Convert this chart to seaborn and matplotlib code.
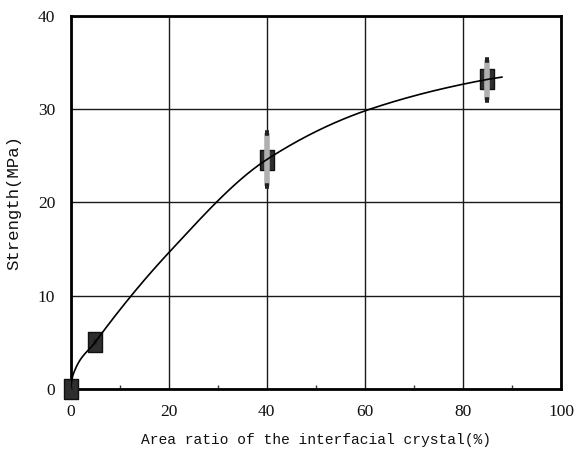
import numpy as np
import pandas as pd
import matplotlib
matplotlib.use("Agg")
import matplotlib.pyplot as plt
from matplotlib.ticker import MultipleLocator
import seaborn as sns

# Measured strength against area ratio of the interfacial crystal
area_ratio = [0, 5, 40, 85]
strength = [0.0, 5.0, 24.6, 33.2]
err_low = [0.0, 0.0, 2.8, 2.2]
err_high = [0.0, 0.0, 2.8, 2.1]

# Trend curve through the measurements
trend_x = [0, 0.5, 5, 20, 40, 61, 85, 88]
trend_y = [0, 1.5, 5.0, 14.6, 24.6, 30.0, 33.2, 33.45]

x_ticks = [0, 20, 40, 60, 80, 100]
y_ticks = [0, 10, 20, 30, 40]


def pchip(xk, yk, xs):
    xk = np.asarray(xk, float)
    yk = np.asarray(yk, float)
    h = np.diff(xk)
    d = np.diff(yk) / h
    m = np.zeros_like(xk)
    for i in range(1, len(xk) - 1):
        if d[i - 1] * d[i] > 0:
            w1 = 2 * h[i] + h[i - 1]
            w2 = h[i] + 2 * h[i - 1]
            m[i] = (w1 + w2) / (w1 / d[i - 1] + w2 / d[i])
    m[0] = d[0]
    m[-1] = d[-1]
    idx = np.clip(np.searchsorted(xk, xs) - 1, 0, len(xk) - 2)
    t = (xs - xk[idx]) / h[idx]
    h00 = 2 * t**3 - 3 * t**2 + 1
    h10 = t**3 - 2 * t**2 + t
    h01 = -2 * t**3 + 3 * t**2
    h11 = t**3 - t**2
    return (h00 * yk[idx] + h10 * h[idx] * m[idx]
            + h01 * yk[idx + 1] + h11 * h[idx] * m[idx + 1])


xs = np.linspace(trend_x[0], trend_x[-1], 500)
curve = pd.DataFrame({"x": xs, "y": pchip(trend_x, trend_y, xs)})
points = pd.DataFrame({"x": area_ratio, "y": strength})

sns.set_theme(style="white")
plt.rcParams["font.family"] = ["Liberation Serif", "DejaVu Serif"]

fig = plt.figure(figsize=(5.76, 4.57), dpi=100)
ax = fig.add_axes([0.1224, 0.1488, 0.8516, 0.8162])

# rectangular dark markers
rect = [(-0.37, -0.5), (0.37, -0.5), (0.37, 0.5), (-0.37, 0.5), (-0.37, -0.5)]
sns.scatterplot(data=points, x="x", y="y", ax=ax, marker=rect, s=190,
                color="#2e2e2e", edgecolor="#111111", linewidth=1.0,
                zorder=3, clip_on=False)

# grey error bars with dark end caps
eb = ax.errorbar(area_ratio, strength, yerr=[err_low, err_high], fmt="none",
                 ecolor="#b0b0b0", elinewidth=4.0, capsize=1.6, capthick=4.0,
                 zorder=4)
for cap in eb[1]:
    cap.set_markeredgecolor("#222222")
    cap.set_markerfacecolor("#222222")

sns.lineplot(data=curve, x="x", y="y", ax=ax, color="black", linewidth=1.2,
             zorder=5)

ax.set_xlim(0, 100)
ax.set_ylim(0, 40)
ax.set_xticks(x_ticks)
ax.set_yticks(y_ticks)
ax.xaxis.set_minor_locator(MultipleLocator(10))
ax.grid(True, which="major", color="#1a1a1a", linewidth=1.0)
ax.set_axisbelow(True)
for s in ax.spines.values():
    s.set_visible(True)
    s.set_color("black")
    s.set_linewidth(2.0)

ax.tick_params(axis="both", which="major", length=0, pad=11,
               labelsize=12.5, labelcolor="#111111")
ax.tick_params(axis="x", which="minor", bottom=True, direction="in",
               length=3, width=1, color="#333333")

ax.set_xlabel("Area ratio of the interfacial crystal(%)",
              family=["Liberation Mono", "DejaVu Sans Mono"], fontsize=10.5,
              color="#111111", labelpad=9)
ax.set_ylabel("Strength(MPa)",
              family=["Liberation Mono", "DejaVu Sans Mono"], fontsize=12.5,
              color="#111111", labelpad=12)

fig.savefig("out.png", dpi=100)
